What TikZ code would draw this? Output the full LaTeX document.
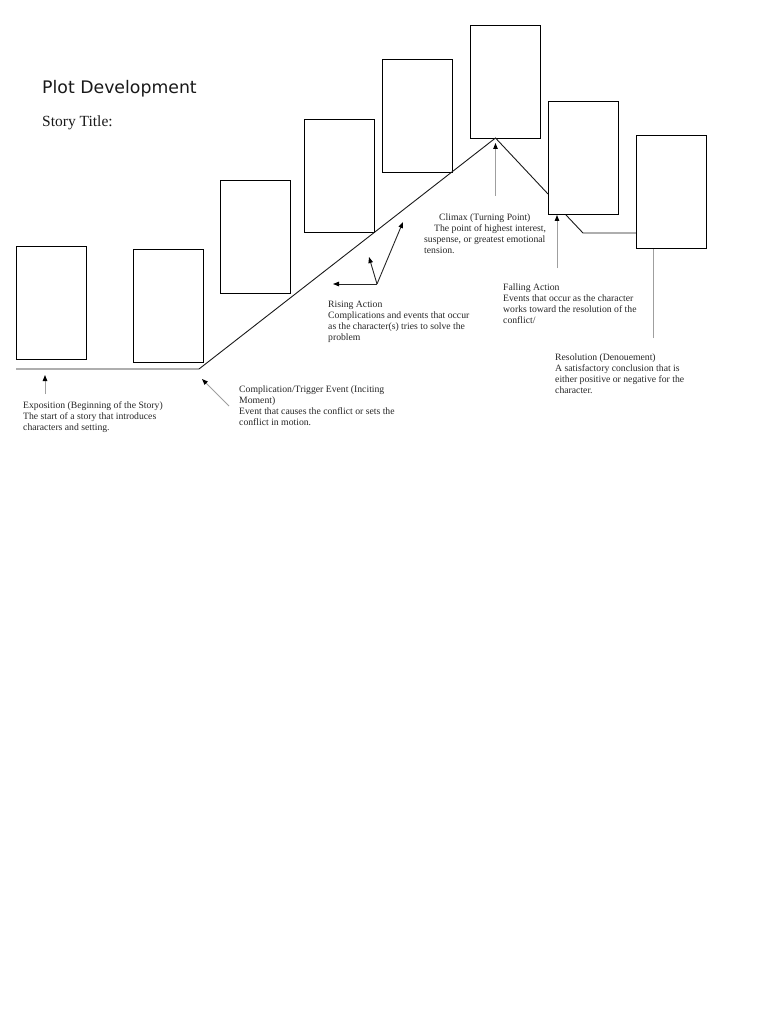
\documentclass[tikz,border=0pt]{standalone}
\usepackage{fontspec}
\setmainfont{Liberation Serif}
\newfontfamily\headfont{DejaVu Sans}
\usepackage{tikz}
\usetikzlibrary{positioning,arrows.meta,calc}

\begin{document}
\begin{tikzpicture}[
    x=1pt, y=-1pt,
    panel/.style={draw, black, line width=0.8pt, anchor=north west,
                  minimum width=70pt, minimum height=113pt, inner sep=0pt},
    plotline/.style={black!90, line width=0.9pt},
    pointer/.style={-{Triangle[length=6pt, width=4.5pt, color=black]},
                    gray!75, line width=0.9pt},
    note/.style={anchor=north west, inner sep=0pt, align=left, text=black!85,
                 font=\fontsize{9.7}{11}\selectfont},
  ]
  \useasboundingbox (0,0) rectangle (768,1024);

  % ---------- heading ----------
  \node[anchor=base west, inner sep=0pt, text=black!90,
        font=\headfont\fontsize{17.3}{20}\selectfont] (head) at (42,94) {Plot Development};
  \node[anchor=base west, inner sep=0pt, text=black!90,
        font=\fontsize{15.5}{18}\selectfont] (title) at (42,127) {Story Title:};

  % ---------- event boxes, left to right ----------
  \foreach \n/\bx/\by in {1/16/246, 2/133/249, 3/220/180, 4/304/119,
                          5/382/59, 6/470/25, 7/548/101, 8/636/135} {
    \node[panel] (b\n) at (\bx,\by) {};
  }

  % ---------- plot line ----------
  \coordinate (start) at (16,369);
  \coordinate (incite) at (199,369);
  \coordinate (peak) at (495.5,138);
  \coordinate (fall) at (548,194);
  \coordinate (drop) at (566,215);
  \coordinate (rest) at (583,233);
  \coordinate (rend) at (636,233);
  \draw[plotline] (start) -- (incite) -- (peak) -- (fall);
  \draw[plotline] (drop) -- (rest) -- (rend);

  % ---------- labels ----------
  \node[note] (expo) at (23,401.5)
    {Exposition (Beginning of the Story)\\The start of a story that introduces\\characters and setting.};
  \node[note] (comp) at (239,385.5)
    {Complication/Trigger Event (Inciting\\Moment)\\Event that causes the conflict or sets the\\conflict in motion.};
  \node[note] (rise) at (328,300.5)
    {Rising Action\\Complications and events that occur\\as the character(s) tries to solve the\\problem};
  \node[note] (clim) at (424,213.5)
    {\hspace{15pt}Climax (Turning Point)\\\hspace{10pt}The point of highest interest,\\suspense, or greatest emotional\\tension.};
  \node[note] (fallact) at (503,283.5)
    {Falling Action\\Events that occur as the character\\works toward the resolution of the\\conflict/};
  \node[note] (reso) at (555,353.5)
    {Resolution (Denouement)\\A satisfactory conclusion that is\\either positive or negative for the\\character.};

  % ---------- pointers ----------
  \coordinate (expotail) at (45,394);
  \coordinate (expotip) at (45,375);
  \draw[pointer] (expotail) -- (expotip);

  \coordinate (comptail) at (229,406);
  \coordinate (comptip) at (202,379);
  \draw[pointer] (comptail) -- (comptip);

  \coordinate (risefork) at (377,284);
  \coordinate (risetipa) at (403,222);
  \coordinate (risetipb) at (369,257);
  \coordinate (risetipc) at (333,284);
  \draw[pointer, black!85] (risefork) -- (risetipa);
  \draw[pointer, black!85] (risefork) -- (risetipb);
  \draw[pointer, black!85] (risefork) -- (risetipc);

  \coordinate (climtail) at (495.5,196);
  \coordinate (climtip) at (495.5,143);
  \draw[pointer] (climtail) -- (climtip);

  \coordinate (falltail) at (557,268);
  \coordinate (falltip) at (557,215);
  \draw[pointer] (falltail) -- (falltip);

  \coordinate (resotail) at (653,338);
  \draw[gray!75, line width=0.9pt] (resotail) -- (resotail |- b8.south);

\end{tikzpicture}
\end{document}
